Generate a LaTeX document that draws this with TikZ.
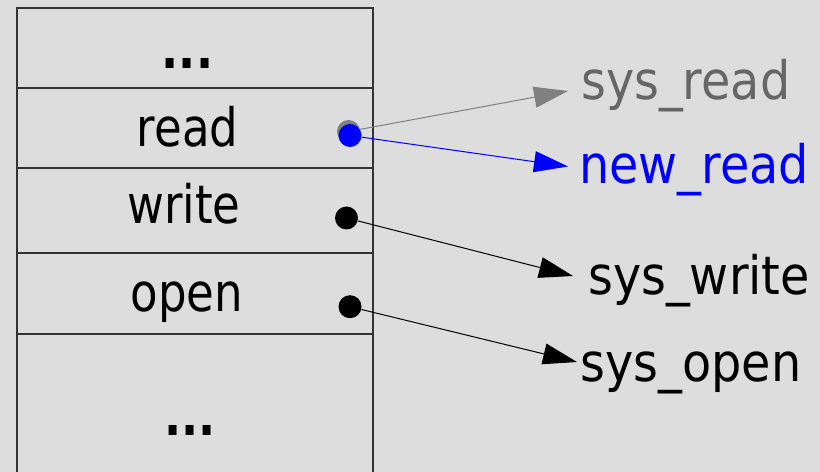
\documentclass[tikz,border=0pt]{standalone}
\usepackage{fontspec}
\setmainfont[FakeStretch=0.85]{DejaVu Sans}
\newfontfamily\handlerfont[FakeStretch=0.9]{DejaVu Sans}
\usetikzlibrary{arrows.meta,positioning}
\definecolor{panel}{HTML}{DDDDDD}
\definecolor{oldgray}{HTML}{666666}
\definecolor{linkgray}{HTML}{808080}
\tikzset{
  slot/.style={draw=black!80,line width=1.3bp,minimum width=356bp,inner sep=0pt,outer sep=0pt},
  entry/.style={anchor=base,inner sep=0pt},
  handler/.style={anchor=base west,inner sep=0pt,font=\fontsize{53bp}{60bp}\handlerfont},
  ptr/.style={circle,fill=black,inner sep=0pt,minimum size=23bp}
}
\begin{document}
\begin{tikzpicture}[x=1bp,y=-1bp,>={Triangle[length=34bp,width=21bp]},
    font=\fontsize{53bp}{60bp}\selectfont]
        \useasboundingbox (0,0) rectangle (820,472);
        \fill[panel] (0,0) rectangle (820,472);
        \clip (0,0) rectangle (820,472);

        % the table
        \node[slot,anchor=north west,minimum height=80bp] (slotdots) at (17,8) {};
        \node[slot,minimum height=80bp,below=0pt of slotdots] (slotread) {};
        \node[slot,minimum height=85bp,below=0pt of slotread] (slotwrite) {};
        \node[slot,minimum height=81bp,below=0pt of slotwrite] (slotopen) {};
        \node[slot,minimum height=160bp,below=0pt of slotopen] (slotrest) {};

        \node[entry] (ldots) at (187.5,68.7) {\textbf{...}};
        \node[entry] (lread) at (187.5,147) {read};
        \node[entry] (lwrite) at (184,224) {write};
        \node[entry] (lopen) at (186.7,311.7) {open};
        \node[entry] (lrest) at (190,435) {\textbf{...}};

        % pointers
        \node[ptr,fill=linkgray] (pold) at (348.5,131.5) {};
        \node[ptr,fill=blue] (pread) at (350,135.5) {};
        \node[ptr] (pwrite) at (346.5,218) {};
        \node[ptr] (popen) at (350,306.7) {};

        % handlers
        \node[handler,text=oldgray] (sysread) at (581,100) {sys\_read};
        \node[handler,text=blue] (newread) at (579,183.3) {new\_read};
        \node[handler] (syswrite) at (588,295) {sys\_write};
        \node[handler] (sysopen) at (580.5,381.7) {sys\_open};

        \coordinate (tipold) at (568,91);
        \coordinate (tipnew) at (568,166.5);
        \coordinate (tipwrite) at (573,276);
        \coordinate (tipopen) at (577,362);

        \path[->,line width=1bp]
          (pold) edge[linkgray] (tipold)
          (pread) edge[blue] (tipnew)
          (pwrite) edge (tipwrite)
          (popen) edge (tipopen);
      \end{tikzpicture}
\end{document}
